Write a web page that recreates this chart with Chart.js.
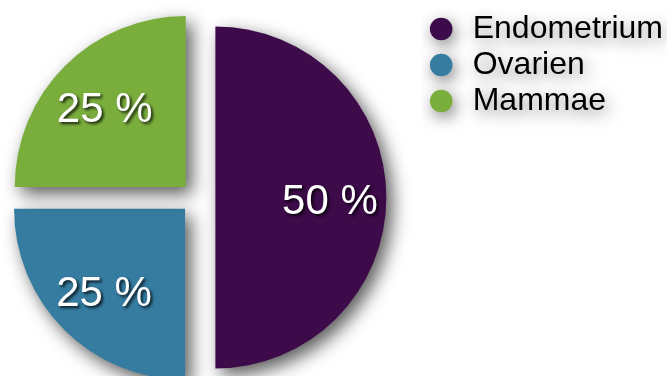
<!DOCTYPE html>
<html>
<head>
<meta charset="utf-8">
<script src="https://cdn.jsdelivr.net/npm/chart.js@4/dist/chart.umd.min.js"></script>
<style>
  html, body { margin: 0; padding: 0; background: #fff; overflow: hidden; }
  #wrap { position: absolute; left: -29px; top: 0; width: 706px; height: 386px; }
</style>
</head>
<body>
<div id="wrap"><canvas id="canvas"></canvas></div>
<script>
var labels = ['Endometrium', 'Ovarien', 'Mammae'];
var values = [50, 25, 25];
var colors = ['#3d0a4a', '#357ca0', '#7aae3c'];

var FONT = '"Liberation Sans", Arial, Helvetica, sans-serif';

// drop shadows for legend, slices and the percent labels
var shadowPlugin = {
  id: 'shadows',
  afterUpdate: function(chart) {
    // a half-circle arc also grows its radius by the offset; keep every
    // exploded slice at the same radius
    chart.getDatasetMeta(0).data.forEach(function(arc) {
      arc.circumference = Math.PI / 2;
    });
  },
  beforeDraw: function(chart) {
    var ctx = chart.ctx;
    ctx.save();
    ctx.shadowColor = 'rgba(0,0,0,0.5)';
    ctx.shadowBlur = 16;
    ctx.shadowOffsetX = 3;
    ctx.shadowOffsetY = 5;
  },
  beforeDatasetsDraw: function(chart) {
    var ctx = chart.ctx;
    ctx.save();
    ctx.shadowColor = 'rgba(0,0,0,0.65)';
    ctx.shadowBlur = 18;
    ctx.shadowOffsetX = 6;
    ctx.shadowOffsetY = 7;
  },
  afterDatasetsDraw: function(chart) {
    var ctx = chart.ctx;
    ctx.restore();
    var total = values.reduce(function(a, b) { return a + b; }, 0);
    var meta = chart.getDatasetMeta(0);
    ctx.save();
    ctx.font = '42px ' + FONT;
    ctx.fillStyle = '#fff';
    ctx.textAlign = 'center';
    ctx.textBaseline = 'alphabetic';
    ctx.shadowColor = 'rgba(0,0,0,0.8)';
    ctx.shadowBlur = 3;
    ctx.shadowOffsetX = 2;
    ctx.shadowOffsetY = 2;
    meta.data.forEach(function(arc, i) {
      var p = arc.getProps(['x', 'y', 'startAngle', 'endAngle', 'outerRadius']);
      var mid = (p.startAngle + p.endAngle) / 2;
      // arcs are pushed out by offset / 4
      var d = arc.options.offset / 4 + p.outerRadius * 0.67;
      var pct = Math.round(values[i] / total * 100);
      ctx.fillText(pct + ' %', p.x + Math.cos(mid) * d, p.y + Math.sin(mid) * d + 16);
    });
    ctx.restore();
  },
  afterDraw: function(chart) {
    chart.ctx.restore();
  }
};

window.onload = function() {
  var ctx = document.getElementById('canvas').getContext('2d');
  new Chart(ctx, {
    type: 'pie',
    data: {
      labels: labels,
      datasets: [{
        data: values,
        backgroundColor: colors,
        borderWidth: 0,
        offset: [76, 64, 60],
        hoverOffset: 0
      }]
    },
    options: {
      responsive: true,
      maintainAspectRatio: false,
      animation: false,
      radius: 171,
      layout: { padding: { top: 9, right: 4, left: 0, bottom: 0 } },
      plugins: {
        tooltip: { enabled: false },
        legend: {
          position: 'right',
          align: 'start',
          labels: {
            usePointStyle: true,
            pointStyle: 'circle',
            boxWidth: 31,
            boxHeight: 16,
            padding: 4,
            color: '#000',
            font: { family: FONT, size: 32 }
          }
        }
      }
    },
    plugins: [shadowPlugin]
  });
};
</script>
</body>
</html>
